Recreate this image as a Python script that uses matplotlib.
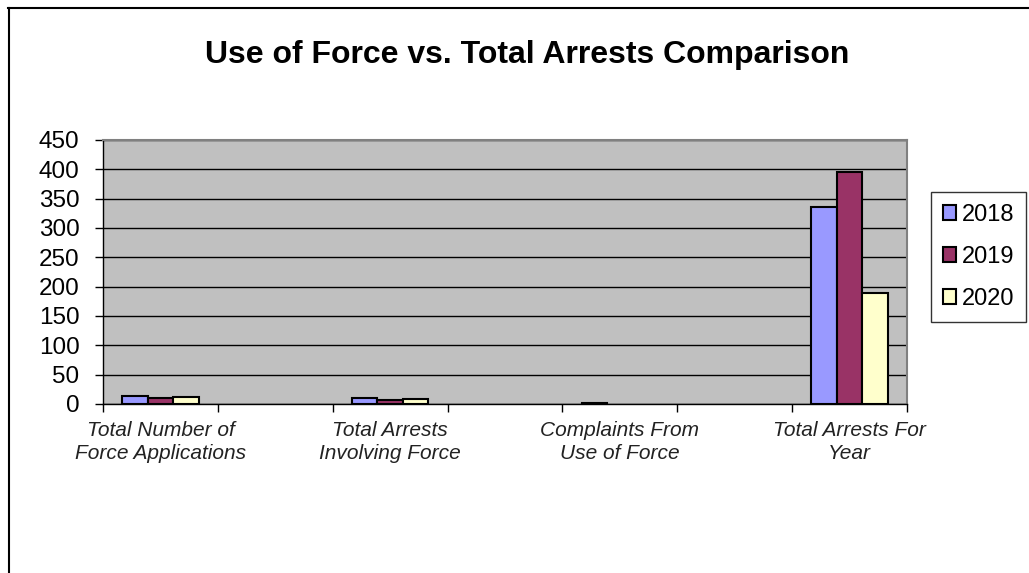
import numpy as np
import matplotlib.pyplot as plt
from matplotlib.lines import Line2D

plt.rcParams["font.family"] = ["Liberation Sans", "DejaVu Sans"]

categories = ["Total Number of\nForce Applications", "Total Arrests\nInvolving Force",
              "Complaints From\nUse of Force", "Total Arrests For\nYear"]
years = ["2018", "2019", "2020"]
v2018 = [14, 10, 1, 336]
v2019 = [11, 7, np.nan, 395]
v2020 = [12, 8, np.nan, 190]
colors = ["#9999FF", "#993366", "#FFFFCC"]

fig = plt.figure(figsize=(10.29, 5.73), dpi=100)
ax = fig.add_axes([103 / 1029, 1 - 404 / 573, 804 / 1029, 264 / 573])
ax.set_facecolor("#C0C0C0")

# each category sits in every other slot of a 7-slot axis
x = np.arange(len(categories)) * 2
w = 1 / 4.5
for i, (vals, c, yr) in enumerate(zip([v2018, v2019, v2020], colors, years)):
    ax.bar(x + (i - 1) * w, vals, w, color=c, edgecolor="black", linewidth=1.5,
           label=yr, zorder=3)

ax.set_xlim(-0.5, 6.5)
ax.set_ylim(0, 450)
ax.set_yticks(np.arange(0, 451, 50))
ax.yaxis.grid(True, color="black", linewidth=1)
ax.set_axisbelow(True)
ax.tick_params(axis="y", labelsize=17.5, length=6, width=1, direction="out", pad=11)

ax.set_xticks(x)
ax.set_xticklabels(categories, fontsize=15, style="italic", color="#222222",
                   linespacing=1.3)
ax.set_xticks(np.arange(-0.5, 7, 1), minor=True)
ax.tick_params(axis="x", which="major", length=0, pad=12)
ax.tick_params(axis="x", which="minor", length=6, width=1)

for s in ["top", "right"]:
    ax.spines[s].set_color("#808080")
    ax.spines[s].set_linewidth(1.5)
for s in ["left", "bottom"]:
    ax.spines[s].set_color("black")
    ax.spines[s].set_linewidth(1)

fig.text(527 / 1029, 1 - 55 / 573, "Use of Force vs. Total Arrests Comparison",
         fontsize=23, fontweight="bold", ha="center", va="center")

handles = [plt.Rectangle((0, 0), 1, 1, facecolor=c, edgecolor="black", linewidth=1.5)
           for c in colors]
leg = fig.legend(handles, years, loc="upper left",
                 bbox_to_anchor=(931 / 1029, 1 - 192 / 573), fontsize=17,
                 frameon=True, fancybox=False, edgecolor="black", borderpad=0.5,
                 handlelength=0.55, handleheight=0.55, handletextpad=0.25,
                 labelspacing=0.85, borderaxespad=0)
leg.get_frame().set_linewidth(1)

# outer chart border (top and left edges)
fig.add_artist(Line2D([8 / 1029, 1], [1 - 7.5 / 573, 1 - 7.5 / 573],
                      color="black", linewidth=1.5, transform=fig.transFigure))
fig.add_artist(Line2D([8.5 / 1029, 8.5 / 1029], [0, 1 - 7.5 / 573],
                      color="black", linewidth=1.5, transform=fig.transFigure))

fig.savefig("out.png", dpi=100)
